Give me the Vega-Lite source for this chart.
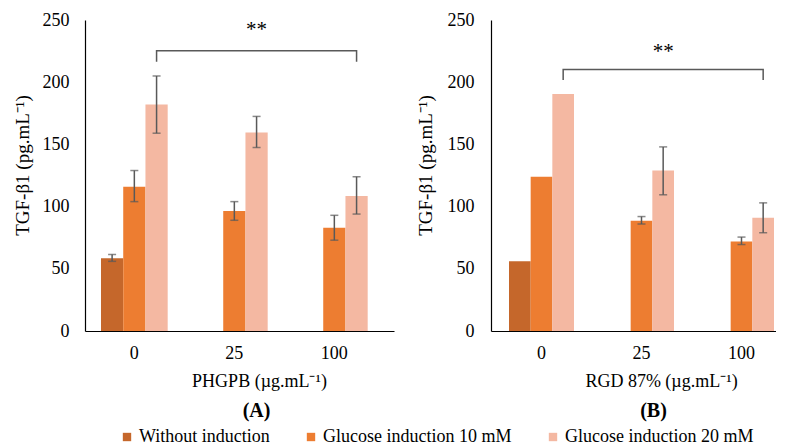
{
  "$schema": "https://vega.github.io/schema/vega-lite/v6.json",
  "background": "white",
  "padding": {"left": 13, "top": 11, "right": 0, "bottom": 0},
  "spacing": 22,
  "config": {
    "font": "Liberation Serif",
    "view": {"stroke": null},
    "axis": {
      "labelFont": "Liberation Serif", "titleFont": "Liberation Serif",
      "labelFontSize": 18, "titleFontSize": 18, "titleFontWeight": "normal",
      "labelColor": "#000", "titleColor": "#000",
      "grid": false, "ticks": false, "domainColor": "#000", "domainWidth": 1.2
    },
    "legend": {"labelFont": "Liberation Serif", "labelFontSize": 18, "labelColor": "#000", "labelLimit": 400},
    "text": {"font": "Liberation Serif"},
    "title": {"font": "Liberation Serif", "fontSize": 20, "fontWeight": "bold", "color": "#000"}
  },
  "datasets": {
    "bars": [
      {"panel": "A", "dose": "0", "group": "Without induction", "value": 58.5, "lo": 56, "hi": 61.5},
      {"panel": "A", "dose": "0", "group": "Glucose induction 10 mM", "value": 116, "lo": 104, "hi": 129},
      {"panel": "A", "dose": "0", "group": "Glucose induction 20 mM", "value": 182, "lo": 159, "hi": 205},
      {"panel": "A", "dose": "25", "group": "Glucose induction 10 mM", "value": 96.5, "lo": 89, "hi": 104},
      {"panel": "A", "dose": "25", "group": "Glucose induction 20 mM", "value": 159.5, "lo": 147.5, "hi": 172.5},
      {"panel": "A", "dose": "100", "group": "Glucose induction 10 mM", "value": 83, "lo": 73, "hi": 93},
      {"panel": "A", "dose": "100", "group": "Glucose induction 20 mM", "value": 108.5, "lo": 94, "hi": 124},
      {"panel": "B", "dose": "0", "group": "Without induction", "value": 56, "lo": null, "hi": null},
      {"panel": "B", "dose": "0", "group": "Glucose induction 10 mM", "value": 124, "lo": null, "hi": null},
      {"panel": "B", "dose": "0", "group": "Glucose induction 20 mM", "value": 190.5, "lo": null, "hi": null},
      {"panel": "B", "dose": "25", "group": "Glucose induction 10 mM", "value": 88.7, "lo": 86, "hi": 92},
      {"panel": "B", "dose": "25", "group": "Glucose induction 20 mM", "value": 129, "lo": 109.5, "hi": 148},
      {"panel": "B", "dose": "100", "group": "Glucose induction 10 mM", "value": 72, "lo": 69.5, "hi": 75.5},
      {"panel": "B", "dose": "100", "group": "Glucose induction 20 mM", "value": 91, "lo": 79, "hi": 103}
    ],
    "bracket": [
      {"panel": "A", "ord": 1, "dose": "0", "group": "Glucose induction 20 mM", "y": 216.5},
      {"panel": "A", "ord": 2, "dose": "0", "group": "Glucose induction 20 mM", "y": 225.3},
      {"panel": "A", "ord": 3, "dose": "100", "group": "Glucose induction 20 mM", "y": 225.3},
      {"panel": "A", "ord": 4, "dose": "100", "group": "Glucose induction 20 mM", "y": 216.5},
      {"panel": "B", "ord": 1, "dose": "0", "group": "Glucose induction 20 mM", "y": 201.8},
      {"panel": "B", "ord": 2, "dose": "0", "group": "Glucose induction 20 mM", "y": 210.3},
      {"panel": "B", "ord": 3, "dose": "100", "group": "Glucose induction 20 mM", "y": 210.3},
      {"panel": "B", "ord": 4, "dose": "100", "group": "Glucose induction 20 mM", "y": 201.8}
    ],
    "stars": [
      {"panel": "A", "dose": "25", "group": "Glucose induction 20 mM", "y": 242, "label": "**"},
      {"panel": "B", "dose": "25", "group": "Glucose induction 20 mM", "y": 224, "label": "**"}
    ]
  },
  "resolve": {"scale": {"x": "independent", "y": "independent", "xOffset": "independent", "color": "shared"}},
  "hconcat": [
    {
      "width": 309, "height": 311,
      "title": {"text": "(A)", "orient": "bottom", "anchor": "middle", "dx": 17, "offset": 11},
      "encoding": {
        "x": {"field": "dose", "type": "nominal", "sort": ["0", "25", "100"],
              "scale": {"domain": ["0", "25", "100"], "paddingInner": 0.333, "paddingOuter": 0.2115, "align": 0.378},
              "axis": {"title": "PHGPB (µg.mL⁻¹)", "labelAngle": 0, "labelPadding": 13, "titlePadding": 10, "titleX": 174}},
        "xOffset": {"field": "group", "type": "nominal",
                    "scale": {"domain": ["Without induction", "Glucose induction 10 mM", "Glucose induction 20 mM"], "paddingInner": 0, "paddingOuter": 0}}
      },
      "layer": [
        {"data": {"name": "bars"}, "transform": [{"filter": "datum.panel == 'A'"}],
         "mark": {"type": "bar"},
         "encoding": {
           "y": {"field": "value", "type": "quantitative",
                 "scale": {"domain": [0, 250], "nice": false},
                 "axis": {"title": "TGF-β1 (pg.mL⁻¹)", "titleFontSize": 19, "values": [0, 50, 100, 150, 200, 250], "labelPadding": 16, "titlePadding": 10, "titleY": 145}},
           "color": {"field": "group", "type": "nominal",
                     "scale": {"domain": ["Without induction", "Glucose induction 10 mM", "Glucose induction 20 mM"], "range": ["#C5672B", "#ED7D31", "#F4B8A2"]},
                     "legend": {"title": null, "orient": "none", "direction": "horizontal", "legendX": 33, "legendY": 408,
                                "symbolType": "square", "symbolSize": 70, "symbolStrokeWidth": 0,
                                "labelLimit": 400, "columnPadding": 32, "labelOffset": 3, "padding": 0}}
         }},
        {"data": {"name": "bars"}, "transform": [{"filter": "datum.panel == 'A' && datum.lo != null"}],
         "mark": {"type": "rule", "color": "#595959", "strokeWidth": 1.5},
         "encoding": {"y": {"field": "lo", "type": "quantitative"}, "y2": {"field": "hi"}}},
        {"data": {"name": "bars"}, "transform": [{"filter": "datum.panel == 'A' && datum.lo != null"}],
         "mark": {"type": "tick", "orient": "horizontal", "color": "#595959", "size": 8, "thickness": 1.5},
         "encoding": {"y": {"field": "lo", "type": "quantitative"}}},
        {"data": {"name": "bars"}, "transform": [{"filter": "datum.panel == 'A' && datum.lo != null"}],
         "mark": {"type": "tick", "orient": "horizontal", "color": "#595959", "size": 8, "thickness": 1.5},
         "encoding": {"y": {"field": "hi", "type": "quantitative"}}},
        {"data": {"name": "bracket"}, "transform": [{"filter": "datum.panel == 'A'"}],
         "mark": {"type": "line", "color": "#595959", "strokeWidth": 1.5},
         "encoding": {"y": {"field": "y", "type": "quantitative"}, "order": {"field": "ord", "type": "quantitative"}}},
        {"data": {"name": "stars"}, "transform": [{"filter": "datum.panel == 'A'"}],
         "mark": {"type": "text", "fontSize": 21, "baseline": "middle", "color": "#000"},
         "encoding": {"y": {"field": "y", "type": "quantitative"}, "text": {"field": "label"}}}
      ]
    },
    {
      "width": 285, "height": 311,
      "title": {"text": "(B)", "orient": "bottom", "anchor": "middle", "dx": 20, "offset": 11},
      "encoding": {
        "x": {"field": "dose", "type": "nominal", "sort": ["0", "25", "100"],
              "scale": {"domain": ["0", "25", "100"], "paddingInner": 0.35, "paddingOuter": 0.1, "align": 0.9},
              "axis": {"title": "RGD 87% (µg.mL⁻¹)", "labelAngle": 0, "labelPadding": 13, "titlePadding": 10, "titleX": 170}},
        "xOffset": {"field": "group", "type": "nominal",
                    "scale": {"domain": ["Without induction", "Glucose induction 10 mM", "Glucose induction 20 mM"], "paddingInner": 0, "paddingOuter": 0}}
      },
      "layer": [
        {"data": {"name": "bars"}, "transform": [{"filter": "datum.panel == 'B'"}],
         "mark": {"type": "bar"},
         "encoding": {
           "y": {"field": "value", "type": "quantitative",
                 "scale": {"domain": [0, 250], "nice": false},
                 "axis": {"title": "TGF-β1 (pg.mL⁻¹)", "titleFontSize": 19, "values": [0, 50, 100, 150, 200, 250], "labelPadding": 17, "titlePadding": 12, "titleY": 145}},
           "color": {"field": "group", "type": "nominal"}
         }},
        {"data": {"name": "bars"}, "transform": [{"filter": "datum.panel == 'B' && datum.lo != null"}],
         "mark": {"type": "rule", "color": "#595959", "strokeWidth": 1.5},
         "encoding": {"y": {"field": "lo", "type": "quantitative"}, "y2": {"field": "hi"}}},
        {"data": {"name": "bars"}, "transform": [{"filter": "datum.panel == 'B' && datum.lo != null"}],
         "mark": {"type": "tick", "orient": "horizontal", "color": "#595959", "size": 8, "thickness": 1.5},
         "encoding": {"y": {"field": "lo", "type": "quantitative"}}},
        {"data": {"name": "bars"}, "transform": [{"filter": "datum.panel == 'B' && datum.lo != null"}],
         "mark": {"type": "tick", "orient": "horizontal", "color": "#595959", "size": 8, "thickness": 1.5},
         "encoding": {"y": {"field": "hi", "type": "quantitative"}}},
        {"data": {"name": "bracket"}, "transform": [{"filter": "datum.panel == 'B'"}],
         "mark": {"type": "line", "color": "#595959", "strokeWidth": 1.5},
         "encoding": {"y": {"field": "y", "type": "quantitative"}, "order": {"field": "ord", "type": "quantitative"}}},
        {"data": {"name": "stars"}, "transform": [{"filter": "datum.panel == 'B'"}],
         "mark": {"type": "text", "fontSize": 21, "baseline": "middle", "color": "#000"},
         "encoding": {"y": {"field": "y", "type": "quantitative"}, "text": {"field": "label"}}}
      ]
    }
  ]
}
